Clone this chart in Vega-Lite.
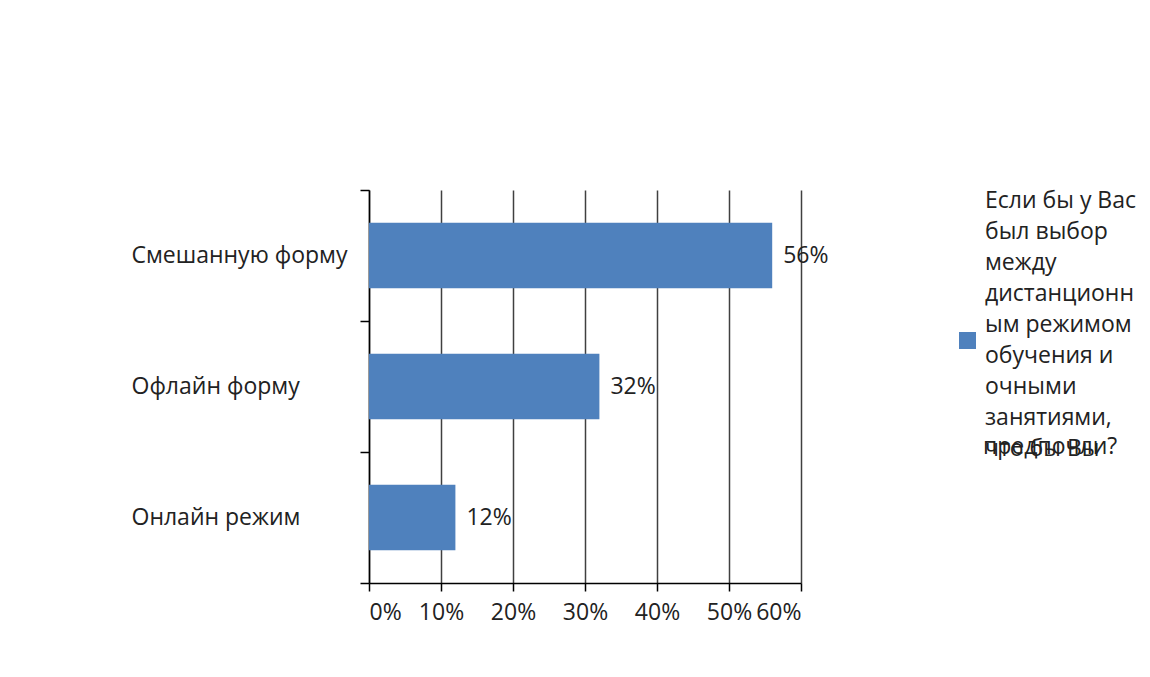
{
  "$schema": "https://vega.github.io/schema/vega-lite/v6.json",
  "width": 432,
  "height": 393,
  "autosize": "none",
  "padding": {"left": 369, "top": 190, "right": 349, "bottom": 94},
  "background": "white",
  "config": {
    "view": {"stroke": null},
    "font": "Open Sans"
  },
  "data": {
    "values": [
      {"answer": "Смешанную форму", "share": 0.56, "series": "Если бы у Вас был выбор между дистанционным режимом обучения и очными занятиями, что бы Вы предпочли?"},
      {"answer": "Офлайн форму", "share": 0.32, "series": "Если бы у Вас был выбор между дистанционным режимом обучения и очными занятиями, что бы Вы предпочли?"},
      {"answer": "Онлайн  режим", "share": 0.12, "series": "Если бы у Вас был выбор между дистанционным режимом обучения и очными занятиями, что бы Вы предпочли?"}
    ]
  },
  "encoding": {
    "y": {
      "field": "answer",
      "type": "nominal",
      "sort": null,
      "scale": {"paddingInner": 0, "paddingOuter": 0},
      "axis": {
        "title": null,
        "tickBand": "extent",
        "tickSize": 9,
        "tickColor": "#000",
        "tickWidth": 1.5,
        "domainColor": "#000",
        "domainWidth": 1.5,
        "labelAlign": "left",
        "labelPadding": 229,
        "labelLimit": 300,
        "labelFontSize": 23,
        "labelColor": "#222",
        "grid": false
      }
    },
    "x": {
      "field": "share",
      "type": "quantitative",
      "scale": {"domain": [0, 0.6]},
      "axis": {
        "title": null,
        "format": ".0%",
        "values": [0, 0.1, 0.2, 0.3, 0.4, 0.5, 0.6],
        "grid": true,
        "gridColor": "#404040",
        "gridWidth": 1.5,
        "tickSize": 8,
        "tickColor": "#000",
        "tickWidth": 1.5,
        "domainColor": "#000",
        "domainWidth": 1.5,
        "labelPadding": 10,
        "labelFontSize": 23,
        "labelColor": "#222"
      }
    }
  },
  "layer": [
    {
      "mark": {"type": "bar", "height": {"band": 0.5}},
      "encoding": {
        "color": {
          "field": "series",
          "type": "nominal",
          "scale": {"range": ["#4F81BD"]},
          "legend": {
            "orient": "none",
            "legendX": 587,
            "legendY": 116,
            "title": "предпочли?",
            "titleFontSize": 23,
            "titleFontWeight": "normal",
            "titleColor": "#222",
            "titlePadding": 0,
            "symbolType": "square",
            "symbolSize": 289,
            "symbolStrokeWidth": 0,
            "labelFontSize": 23,
            "labelColor": "#222",
            "labelLimit": 0,
            "labelOffset": 6,
            "labelExpr": "['Если бы у Вас', 'был выбор', 'между', 'дистанционн', 'ым режимом', 'обучения и', 'очными', 'занятиями,', 'что бы Вы']",
            "encode": {
              "labels": {"update": {"lineHeight": {"value": 31}, "dy": {"value": -140}}},
              "title": {"update": {"dx": {"value": 27}, "dy": {"value": 130}}}
            }
          }
        }
      }
    },
    {
      "mark": {"type": "text", "align": "left", "baseline": "middle", "dx": 11, "fontSize": 23, "color": "#222"},
      "encoding": {
        "text": {"field": "share", "type": "quantitative", "format": ".0%"}
      }
    }
  ]
}
